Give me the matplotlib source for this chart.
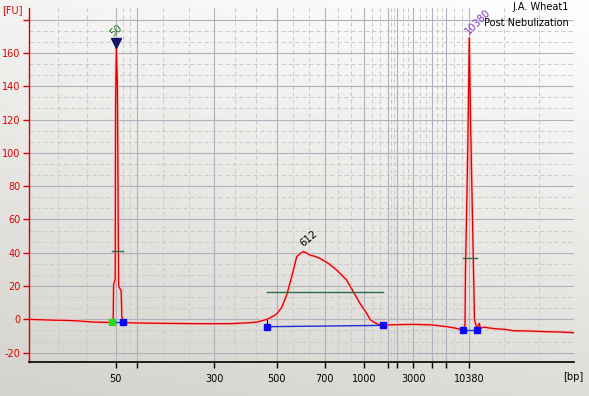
import numpy as np
import matplotlib
matplotlib.use("Agg")
import matplotlib.pyplot as plt

# ---------------- data ----------------
# migration time (s) and fluorescence (FU)
time_s = [20.0, 21.1, 22.6, 23.8, 25.1, 26.4, 27.6, 28.33, 28.42, 28.46, 28.62, 28.66,
          28.74, 28.84, 28.92, 28.97, 29.22, 29.28, 29.43, 29.8, 31.1, 33.8, 37.1, 40.1,
          42.1, 42.9, 43.4, 43.8, 44.3, 44.77, 45.27, 45.77, 46.27, 46.77, 47.1, 47.43,
          47.7, 48.1, 48.6, 49.1, 49.93, 50.77, 51.77, 52.43, 53.1, 53.77, 54.1, 54.43,
          54.9, 55.43, 56.6, 58.4, 59.6, 60.4, 61.77, 62.6, 63.1, 63.43, 63.6, 63.65,
          63.75, 63.9, 64.03, 64.15, 64.35, 64.45, 64.55, 64.77, 64.9, 65.03, 65.15, 65.5,
          65.8, 66.6, 67.6, 68.4, 70.1, 71.8, 73.1, 74.5]
fu = [0.0, -0.2, -0.5, -0.6, -1.0, -1.6, -1.8, -1.8, 0.0, 21.0, 24.0, 130.0,
      163.0, 140.0, 60.0, 20.0, 17.0, 2.0, -1.8, -2.0, -2.2, -2.4, -2.6, -2.6,
      -2.0, -1.5, -0.6, 0.0, 1.5, 3.2, 7.2, 14.6, 25.6, 37.6, 39.5, 40.6,
      40.0, 38.6, 37.8, 36.6, 33.6, 29.6, 23.6, 16.6, 9.6, 3.6, 0.0, -1.4,
      -3.0, -3.4, -3.2, -3.0, -3.2, -3.4, -4.4, -5.2, -6.0, -6.4, -3.0, 30.0,
      60.0, 110.0, 169.0, 120.0, 60.0, 30.0, 0.0, -5.4, -4.0, -2.4, -5.4, -4.6,
      -5.0, -5.6, -6.0, -6.8, -7.0, -7.4, -7.6, -8.0]

# ladder: tick positions (s) and size labels (bp)
ladder_time = [28.67, 30.83, 38.53, 44.77, 49.57, 53.53, 55.93, 56.83, 58.43, 60.33, 61.73, 64.03]
ladder_labels = ["50", "", "300", "500", "700", "1000", "", "", "3000", "", "", "10380"]

# y ticks
y_ticks = [-20, 0, 20, 40, 60, 80, 100, 120, 140, 160, 180]
y_labels = ["-20", "0", "20", "40", "60", "80", "100", "120", "140", "160", ""]

# peak annotations: (time, FU, label, colour)
peak_time = [28.74, 48.0, 64.9]
peak_label_fu = [173.5, 48.8, 178.6]
peak_label = ["50", "612", "10380"]
peak_color = ["#1f7a1f", "#000000", "#8a3cc8"]
peak_rot = [40, 40, 45]

# peak boundaries (start time, end time, start FU, end FU)
bound_start = [28.30, 43.83, 63.43]
bound_end = [29.42, 55.43, 64.83]
bound_start_fu = [-1.6, -4.4, -6.6]
bound_end_fu = [-1.6, -3.6, -6.6]
# level lines (start, end, FU)
level_start = [28.27, 43.77, 63.43]
level_end = [29.43, 55.37, 64.77]
level_fu = [41.2, 16.2, 36.6]

# ---------------- figure ----------------
W, H = 589, 396
fig = plt.figure(figsize=(W / 100, H / 100), dpi=100)

# background gradient
bg = fig.add_axes([0, 0, 1, 1], zorder=-10)
yy, xx = np.mgrid[0:H, 0:W]
v = 0.75 * (1 - yy / H) + 0.25 * (xx / W)
c0 = np.array([212, 210, 204]) / 255.0
c1 = np.array([255, 255, 255]) / 255.0
img = c0[None, None, :] + v[:, :, None] * (c1 - c0)[None, None, :]
bg.imshow(img, aspect="auto", extent=[0, 1, 0, 1], origin="upper")
bg.axis("off")

ax = fig.add_axes([29 / W, (H - 362) / H, (574 - 29) / W, (362 - 8) / H])
ax.set_facecolor("none")
x0, x1 = 20.0, 74.5
y0, y1 = -25.6, 187.0
ax.set_xlim(x0, x1)
ax.set_ylim(y0, y1)

# grid
pw = 0.72
bounds = [x0] + ladder_time + [x1]
for a, b in zip(bounds[:-1], bounds[1:]):
    for k in (1, 2):
        ax.axvline(a + (b - a) * k / 3, color="#cacaca", lw=pw, ls=(0, (4, 3)), zorder=0)
for t in ladder_time:
    ax.axvline(t, color="#aeb2bd", lw=pw * 1.1, zorder=0.5)
for a, b in zip(y_ticks[:-1], y_ticks[1:]):
    for k in (1, 2):
        ax.axhline(a + (b - a) * k / 3, color="#cacaca", lw=pw, ls=(0, (4, 3)), zorder=0)
for yv in y_ticks:
    ax.axhline(yv, color="#aeb2bd", lw=pw * 1.1, zorder=0.5)

# trace
ax.plot(time_s, fu, color="#f8c4c4", lw=2.2, solid_joinstyle="round", zorder=2)
ax.plot(time_s, fu, color="#dd0000", lw=0.95, zorder=3)

# level lines
for s, e, l in zip(level_start, level_end, level_fu):
    ax.plot([s, e], [l, l], color="#2d6b4f", lw=1.0, zorder=4)

# boundaries
for i, (s, e, sf, ef) in enumerate(zip(bound_start, bound_end, bound_start_fu, bound_end_fu)):
    ax.plot([s, e], [sf, ef], color="#1a2fd6", lw=1.0, zorder=4)
    c_start = "#22dd22" if i == 0 else "#0a0aee"
    ax.plot([s], [sf], marker="s", ms=4.2, color=c_start, mec=c_start, zorder=5, clip_on=False)
    ax.plot([e], [ef], marker="s", ms=4.2, color="#0a0aee", mec="#0a0aee", zorder=5, clip_on=False)
ax.plot([bound_start[1], bound_start[1]], [-0.4, bound_start_fu[1]], color="black", lw=0.8, zorder=4)

# peak triangle on first marker
ax.plot([peak_time[0]], [166.0], marker="v", ms=7.0, color="#14146e", zorder=6)

# peak labels
for t, l, s, c, r in zip(peak_time, peak_label_fu, peak_label, peak_color, peak_rot):
    ax.text(t, l, s, color=c, fontsize=7.2, rotation=r, ha="center", va="center", zorder=6)

# axes styling
for sp in ("top", "right"):
    ax.spines[sp].set_visible(False)
ax.spines["left"].set_color("#dd0000")
ax.spines["left"].set_linewidth(1.0)
ax.spines["bottom"].set_color("black")
ax.spines["bottom"].set_linewidth(1.2)

ax.set_xticks(ladder_time)
ax.set_xticklabels(ladder_labels)
ax.set_yticks(y_ticks)
ax.set_yticklabels(y_labels)
ax.tick_params(axis="x", direction="out", length=4.5, width=1.0, colors="black",
               labelsize=7, pad=4)
ax.tick_params(axis="y", direction="out", length=4.5, width=1.0, colors="#dd0000",
               labelcolor="#dd0000", labelsize=7, pad=1.5)

fig.text(2 / W, 1 - 10 / H, "[FU]", color="#dd0000", fontsize=7, ha="left", va="center")
fig.text(583 / W, 1 - 377 / H, "[bp]", color="black", fontsize=7, ha="right", va="center")
fig.text(569 / W, 1 - 7 / H, "J.A. Wheat1", color="black", fontsize=7, ha="right", va="center")
fig.text(569 / W, 1 - 23.5 / H, "Post Nebulization", color="black", fontsize=7, ha="right", va="center")

fig.savefig("out.png", dpi=100)
